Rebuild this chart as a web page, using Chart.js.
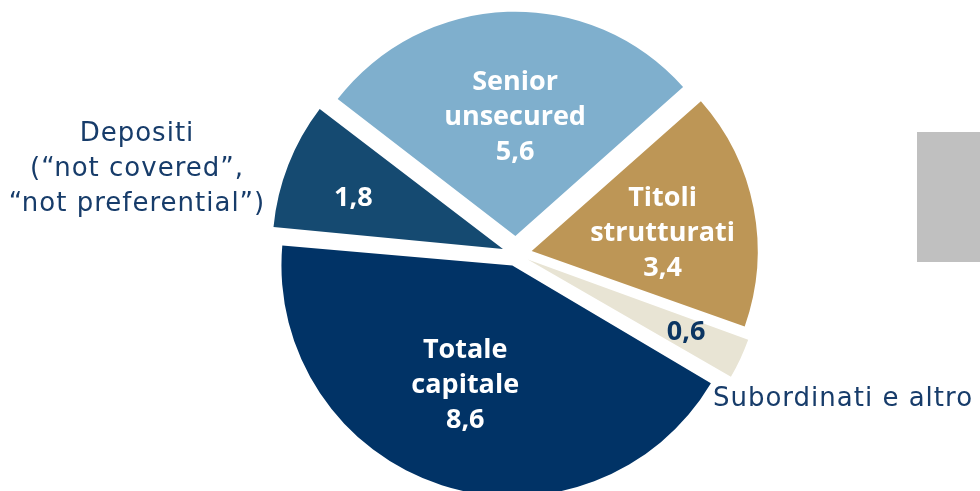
<!DOCTYPE html>
<html>
<head>
<meta charset="utf-8">
<script src="https://cdn.jsdelivr.net/npm/chart.js@4.4.1/dist/chart.umd.min.js"></script>
<style>
  html, body { margin: 0; padding: 0; background: #fff; }
  #wrap { position: relative; width: 980px; height: 491px; overflow: hidden; }
  #side { position: absolute; left: 917px; top: 132px; width: 63px; height: 130px; background: #c0c0c0; }
</style>
</head>
<body>
<div id="wrap">
  <canvas id="pie" width="980" height="491"></canvas>
  <div id="side"></div>
</div>
<script>
// composition of liabilities, clockwise from the upper left
const categories = ['Senior unsecured', 'Titoli strutturati', 'Subordinati e altro', 'Totale capitale', 'Depositi'];
const values = [5.6, 3.4, 0.6, 8.6, 1.8];
const sliceColors = ['#7fafcd', '#bd9656', '#e8e4d4', '#013366', '#154a71'];

// text written inside each slice (value is appended) and next to it
const innerNames = [['Senior', 'unsecured'], ['Titoli', 'strutturati'], [], ['Totale', 'capitale'], []];
const outerNames = [[], [], ['Subordinati e altro'], [], ['Depositi', '(“not covered”,', '“not preferential”)']];

const fmt = v => v.toFixed(1).replace('.', ',');

const sliceLabels = {
  id: 'sliceLabels',
  afterDatasetsDraw(chart, args, opts) {
    const ctx = chart.ctx;
    const arcs = chart.getDatasetMeta(0).data;
    ctx.save();
    ctx.textAlign = 'center';
    ctx.textBaseline = 'middle';
    arcs.forEach((arc, i) => {
      const { x, y, startAngle, endAngle } = arc.getProps(['x', 'y', 'startAngle', 'endAngle'], true);
      const mid = (startAngle + endAngle) / 2;
      const p = opts.inside[i];
      const a = mid + p.turn * Math.PI / 180;
      const cx = x + Math.cos(a) * p.dist;
      const cy = y + Math.sin(a) * p.dist;
      const lines = innerNames[i].concat([fmt(values[i])]);
      ctx.font = 'bold 27px "Open Sans"';
      ctx.letterSpacing = '0px';
      ctx.fillStyle = p.color;
      let top = cy - (lines.length - 1) * opts.lineHeight / 2;
      lines.forEach((t, k) => ctx.fillText(t, cx, top + k * opts.lineHeight));

      const out = outerNames[i];
      if (out.length) {
        const q = opts.outside[i];
        ctx.font = '26px "DejaVu Sans"';
        ctx.letterSpacing = '1px';
        ctx.fillStyle = opts.outerColor;
        top = y + q.dy - (out.length - 1) * opts.outerLineHeight / 2;
        out.forEach((t, k) => ctx.fillText(t, x + q.dx, top + k * opts.outerLineHeight));
      }
    });
    ctx.restore();
  }
};

new Chart(document.getElementById('pie'), {
  type: 'pie',
  data: {
    labels: categories,
    datasets: [{
      data: values,
      backgroundColor: sliceColors,
      borderWidth: 0,
      offset: [72, 64, 52, 48, 56]
    }]
  },
  options: {
    responsive: false,
    animation: false,
    devicePixelRatio: 1,
    rotation: -52.4,
    radius: 224,
    layout: { padding: { left: 52, right: 0, top: 17, bottom: 0 } },
    plugins: {
      legend: { display: false },
      tooltip: { enabled: false },
      sliceLabels: {
        lineHeight: 35,
        outerLineHeight: 35,
        outerColor: '#173c6a',
        inside: [
          { turn: 1.6, dist: 137, color: '#ffffff' },
          { turn: 3.1, dist: 148, color: '#ffffff' },
          { turn: -0.4, dist: 187, color: '#0b3562' },
          { turn: 3.3, dist: 141, color: '#ffffff' },
          { turn: -2.4, dist: 172, color: '#ffffff' }
        ],
        outside: [null, null, { dx: 327, dy: 145 }, null, { dx: -379, dy: -85 }]
      }
    }
  },
  plugins: [sliceLabels]
});
</script>
</body>
</html>
